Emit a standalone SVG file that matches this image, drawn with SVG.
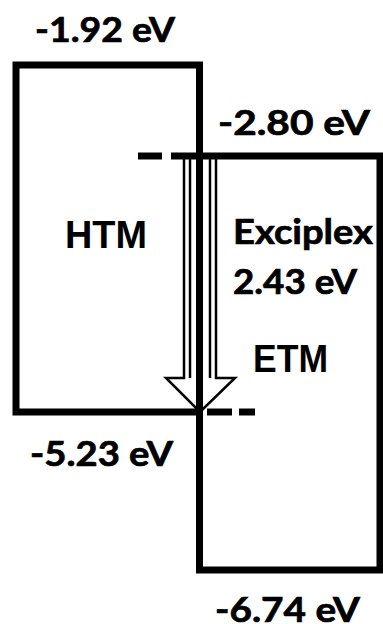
<svg xmlns="http://www.w3.org/2000/svg" width="383" height="624" viewBox="0 0 383 624">
<style>
.box{fill:none;stroke:#000;stroke-width:7;stroke-linejoin:miter}
.dash{stroke:#000;stroke-width:7;fill:none}
.thin{stroke:#000;stroke-width:2.5;fill:#fff;stroke-linejoin:miter}
.ev{font-family:Lato,"Open Sans","Liberation Sans",sans-serif;font-weight:700;font-size:35px;fill:#000;stroke:#000;stroke-width:0.7}
.big{font-family:"Liberation Sans",Arial,sans-serif;font-weight:700;font-size:39px;fill:#000}
</style>
<rect width="383" height="624" fill="#fff"/>
<g id="connectors">
  <g id="arrow">
    <polygon class="thin" points="184,156 216,156 216,378 235,378 200,412 166,378 184,378"/>
    <line x1="190" y1="156" x2="190" y2="378" stroke="#000" stroke-width="2.5"/>
    <line x1="210" y1="156" x2="210" y2="378" stroke="#000" stroke-width="2.5"/>
  </g>
</g>
<g id="htm">
  <path class="box" d="M16,65 H199.5 V412 H16 Z"/>
  <text class="big" x="65" y="248" textLength="82" lengthAdjust="spacingAndGlyphs">HTM</text>
  <text class="ev" x="35" y="42" textLength="140" lengthAdjust="spacingAndGlyphs">-1.92 eV</text>
  <text class="ev" x="30" y="466" textLength="143" lengthAdjust="spacingAndGlyphs">-5.23 eV</text>
</g>
<g id="etm">
  <path class="box" d="M199.5,156 H380 V570 H199.5 Z"/>
  <text class="big" x="253" y="372" textLength="75" lengthAdjust="spacingAndGlyphs">ETM</text>
  <text class="ev" x="218" y="135" textLength="152" lengthAdjust="spacingAndGlyphs">-2.80 eV</text>
  <text class="ev" x="215" y="622" textLength="145" lengthAdjust="spacingAndGlyphs">-6.74 eV</text>
</g>
<g id="exciplex">
  <line class="dash" x1="138" y1="156" x2="162" y2="156"/>
  <line class="dash" x1="171" y1="156" x2="199.5" y2="156"/>
  <line class="dash" x1="207" y1="412" x2="232" y2="412"/>
  <line class="dash" x1="239" y1="412" x2="255" y2="412"/>
  <text class="ev" x="233" y="244" textLength="140" lengthAdjust="spacingAndGlyphs">Exciplex</text>
  <text class="ev" x="233" y="294" textLength="124" lengthAdjust="spacingAndGlyphs">2.43 eV</text>
</g>
</svg>
